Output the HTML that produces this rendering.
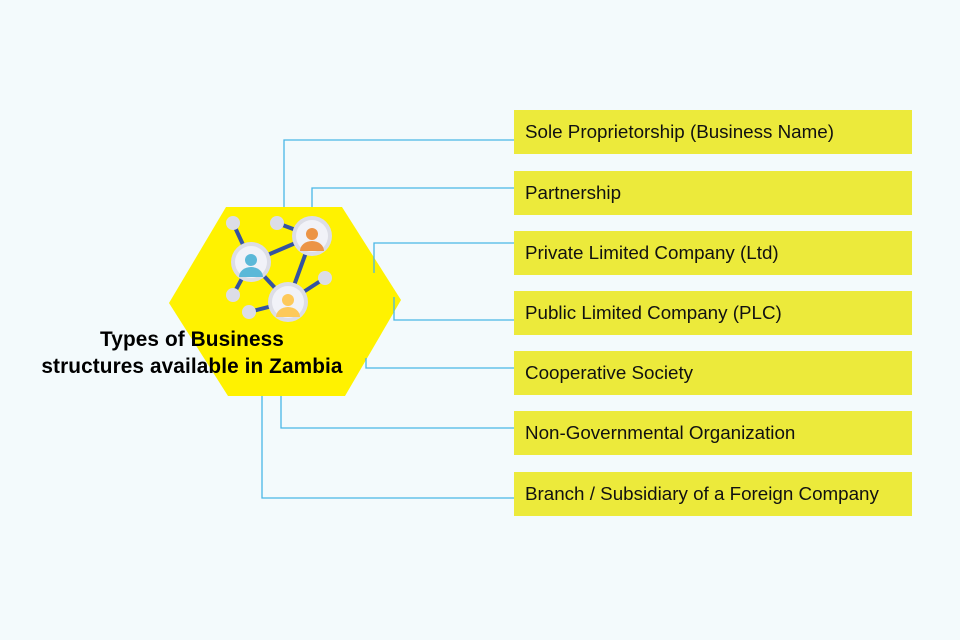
<!DOCTYPE html>
<html><head><style>
body{margin:0;width:960px;height:640px;background:#f3fafc;overflow:hidden;position:relative;font-family:"Liberation Sans",sans-serif}
.b{position:absolute;left:514px;width:398px;height:44px;background:#ecea3b;font-size:18.8px;line-height:44px;padding-left:11px;box-sizing:border-box;color:#111}
svg{position:absolute;left:0;top:0}
.t{position:absolute;left:12px;width:360px;top:326px;text-align:center;font-weight:bold;font-size:20.8px;line-height:27px;color:#000;letter-spacing:0.1px}
</style></head><body>
<svg width="960" height="640">
<polygon points="226,207 342,207 401,300 345,396 228,396 169,303" fill="#fff200"/>
<g fill="none" stroke="#49b6e6" stroke-width="1.3">
<polyline points="284,207 284,140 514,140"/>
<polyline points="312,207 312,188 514,188"/>
<polyline points="374,273 374,243 514,243"/>
<polyline points="394,297 394,320 514,320"/>
<polyline points="366,358 366,368 514,368"/>
<polyline points="281,396 281,428 514,428"/>
<polyline points="262,396 262,498 514,498"/>
</g>
<g stroke="#3553a0" stroke-width="4">
<line x1="233" y1="223" x2="251" y2="262"/><line x1="277" y1="223" x2="312" y2="236"/>
<line x1="251" y1="262" x2="312" y2="236"/><line x1="312" y1="236" x2="288" y2="302"/>
<line x1="251" y1="262" x2="288" y2="302"/><line x1="251" y1="262" x2="233" y2="295"/>
<line x1="288" y1="302" x2="249" y2="312"/><line x1="288" y1="302" x2="325" y2="278"/>
</g>
<g fill="#dcdde6"><circle cx="233" cy="223" r="7"/><circle cx="277" cy="223" r="7"/><circle cx="233" cy="295" r="7"/><circle cx="249" cy="312" r="7"/><circle cx="325" cy="278" r="7"/></g>
<g>
<circle cx="251" cy="262" r="20" fill="#dcdde6"/><circle cx="251" cy="262" r="16" fill="#f1f2f8"/>
<circle cx="251" cy="260" r="6" fill="#5bb8d8"/><path d="M239,277 a12,10 0 0 1 24,0 z" fill="#5bb8d8"/>
<circle cx="312" cy="236" r="20" fill="#dcdde6"/><circle cx="312" cy="236" r="16" fill="#f1f2f8"/>
<circle cx="312" cy="234" r="6" fill="#ec9446"/><path d="M300,251 a12,10 0 0 1 24,0 z" fill="#ec9446"/>
<circle cx="288" cy="302" r="20" fill="#dcdde6"/><circle cx="288" cy="302" r="16" fill="#f1f2f8"/>
<circle cx="288" cy="300" r="6" fill="#fdc95a"/><path d="M276,317 a12,10 0 0 1 24,0 z" fill="#fdc95a"/>
</g>
</svg>
<div class="t">Types of Business<br>structures available in Zambia</div>
<div class="b" style="top:110px">Sole Proprietorship (Business Name)</div>
<div class="b" style="top:171px">Partnership</div>
<div class="b" style="top:231px">Private Limited Company (Ltd)</div>
<div class="b" style="top:291px">Public Limited Company (PLC)</div>
<div class="b" style="top:351px">Cooperative Society</div>
<div class="b" style="top:411px">Non-Governmental Organization</div>
<div class="b" style="top:472px">Branch / Subsidiary of a Foreign Company</div>
</body></html>
